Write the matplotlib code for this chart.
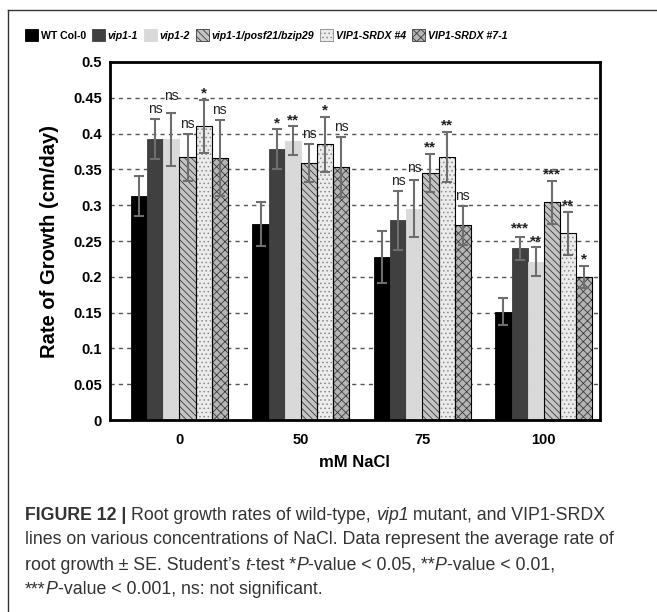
import matplotlib
matplotlib.use("Agg")
import matplotlib.pyplot as plt
import numpy as np
from matplotlib.lines import Line2D

plt.rcParams['font.family'] = ['Liberation Sans', 'DejaVu Sans']
plt.rcParams['hatch.linewidth'] = 0.6

# data
concentrations = ["0", "50", "75", "100"]
lines = ["WT Col-0", "vip1-1", "vip1-2", "vip1-1/posf21/bzip29",
         "VIP1-SRDX #4", "VIP1-SRDX #7-1"]
wt = [0.313, 0.274, 0.228, 0.151]
vip1_1 = [0.392, 0.378, 0.279, 0.240]
vip1_2 = [0.392, 0.390, 0.295, 0.221]
triple = [0.367, 0.359, 0.345, 0.304]
srdx4 = [0.410, 0.385, 0.367, 0.261]
srdx7 = [0.366, 0.353, 0.272, 0.200]
wt_se = [0.028, 0.031, 0.036, 0.019]
vip1_1_se = [0.028, 0.028, 0.041, 0.016]
vip1_2_se = [0.037, 0.020, 0.040, 0.020]
triple_se = [0.033, 0.027, 0.027, 0.030]
srdx4_se = [0.037, 0.038, 0.035, 0.030]
srdx7_se = [0.053, 0.042, 0.027, 0.015]
wt_sig = ["", "", "", ""]
vip1_1_sig = ["ns", "*", "ns", "***"]
vip1_2_sig = ["ns", "**", "ns", "**"]
triple_sig = ["ns", "ns", "**", "***"]
srdx4_sig = ["*", "*", "**", "**"]
srdx7_sig = ["ns", "ns", "ns", "*"]
ytick_labels = ["0", "0.05", "0.1", "0.15", "0.2", "0.25", "0.3",
                "0.35", "0.4", "0.45", "0.5"]

values = [wt, vip1_1, vip1_2, triple, srdx4, srdx7]
errors = [wt_se, vip1_1_se, vip1_2_se, triple_se, srdx4_se, srdx7_se]
sigs = [wt_sig, vip1_1_sig, vip1_2_sig, triple_sig, srdx4_sig, srdx7_sig]

styles = [
    dict(color="black", edgecolor="black", hatch=None),
    dict(color="#404040", edgecolor="#404040", hatch=None),
    dict(color="#d9d9d9", edgecolor="#d9d9d9", hatch=None),
    dict(color="#c4c4c4", edgecolor="#3a3a3a", hatch="\\\\\\\\\\"),
    dict(color="#ececec", edgecolor="#8a8a8a", hatch="...."),
    dict(color="#b5b5b5", edgecolor="#3a3a3a", hatch="xxxx"),
]

fig = plt.figure(figsize=(6.57, 6.12), dpi=100)
ax = fig.add_axes([0.1674, 0.3137, 0.7456, 0.585])

x = np.arange(len(concentrations))
width = 0.133
handles = []
labels_by_group = [[] for _ in concentrations]
for k in range(len(lines)):
    st = styles[k]
    pos = x + (k - 2.5) * width
    bars = ax.bar(pos, values[k], width, facecolor=st["color"],
                  edgecolor=st["edgecolor"], hatch=st["hatch"],
                  linewidth=0.6, zorder=2)
    if st["hatch"]:
        ax.bar(pos, values[k], width, facecolor="none", edgecolor="black",
               linewidth=0.8, zorder=2.5)
    ax.errorbar(pos, values[k], yerr=errors[k], fmt="none", ecolor="#6e6e6e",
                elinewidth=1.5, capsize=3.5, capthick=1.5, zorder=3)
    handles.append(bars)
    for i in range(len(concentrations)):
        s = sigs[k][i]
        if not s:
            continue
        top = values[k][i] + errors[k][i]
        if s == "ns":
            t = ax.text(pos[i], top + 0.004, s, ha="center", va="bottom",
                        fontsize=10, color="#222222", zorder=4)
        else:
            t = ax.text(pos[i], top - 0.001, s, ha="center", va="bottom",
                        fontsize=11, fontweight="bold", color="#222222",
                        zorder=4)
        labels_by_group[i].append(t)

ax.set_xlim(-0.572, 3.461)
ax.set_ylim(0, 0.5)
ax.set_yticks(np.arange(0, 0.501, 0.05))
ax.set_yticklabels(ytick_labels)
ax.set_xticks(x)
ax.set_xticklabels(concentrations)
for t in ax.get_xticklabels() + ax.get_yticklabels():
    t.set_fontweight("bold")
    t.set_fontsize(10.5)
ax.tick_params(axis="y", length=0, pad=6)
ax.tick_params(axis="x", length=0, pad=9)
for sp in ax.spines.values():
    sp.set_linewidth(2)
for yv in np.arange(0.05, 0.46, 0.05):
    ax.axhline(yv, color="#555555", linestyle=(0, (3, 3)), linewidth=1,
               zorder=1)

ax.set_ylabel("Rate of Growth (cm/day)", fontsize=14.5, fontweight="bold",
              labelpad=10)
ax.set_xlabel("mM NaCl", fontsize=12, fontweight="bold", labelpad=6)

# stagger significance labels that collide with a neighbour:
# the one that already sits higher is pushed above the other
renderer = fig.canvas.get_renderer()
px_per_unit = ax.transData.transform((0, 1))[1] - ax.transData.transform((0, 0))[1]
for group in labels_by_group:
    for a, b in zip(group[:-1], group[1:]):
        ba = a.get_window_extent(renderer)
        bb = b.get_window_extent(renderer)
        if bb.x0 < ba.x1 + 3 and bb.y0 < ba.y1 and bb.y1 > ba.y0:
            if bb.y0 >= ba.y0:
                up, other, bu = b, ba, bb
            else:
                up, other, bu = a, bb, ba
            lift = (other.y1 - 1 - bu.y0) / px_per_unit
            xu, yu = up.get_position()
            up.set_position((xu, yu + lift))

leg = fig.legend(handles, lines, loc="center left",
                 bbox_to_anchor=(25 / 657, 1 - 35 / 612), ncol=6,
                 frameon=False, handlelength=1.2, handleheight=1.25,
                 handletextpad=0.3, columnspacing=0.55, borderaxespad=0,
                 borderpad=0, prop=dict(weight="bold", size=7.6))
for i, t in enumerate(leg.get_texts()):
    if i > 0:
        t.set_fontstyle("italic")

# figure frame
fig.add_artist(Line2D([0.012, 0.012], [0, 1 - 10 / 612], color="#333333",
                      linewidth=1, transform=fig.transFigure))
fig.add_artist(Line2D([0.012, 1], [1 - 10 / 612, 1 - 10 / 612],
                      color="#333333", linewidth=1, transform=fig.transFigure))

# caption, drawn piece by piece to mix bold / italic
B = dict(fontweight="bold")
I = dict(fontstyle="italic")
N = dict()
caption = [
    [("FIGURE 12 | ", B), ("Root growth rates of wild-type, ", N),
     ("vip1", I), (" mutant, and VIP1-SRDX", N)],
    [("lines on various concentrations of NaCl. Data represent the average rate of", N)],
    [("root growth \u00b1 SE. Student\u2019s ", N), ("t", I), ("-test *", N),
     ("P", I), ("-value < 0.05, **", N), ("P", I), ("-value < 0.01,", N)],
    [("***", N), ("P", I), ("-value < 0.001, ns: not significant.", N)],
]
for j, segs in enumerate(caption):
    xpos = 25 / 657
    ypos = 1 - (515 + j * 25) / 612
    for txt, st in segs:
        t = fig.text(xpos, ypos, txt, fontsize=12.8, color="#333333",
                     va="center", ha="left", **st)
        xpos += t.get_window_extent(renderer).width / fig.bbox.width

fig.savefig("out.png", dpi=100)
